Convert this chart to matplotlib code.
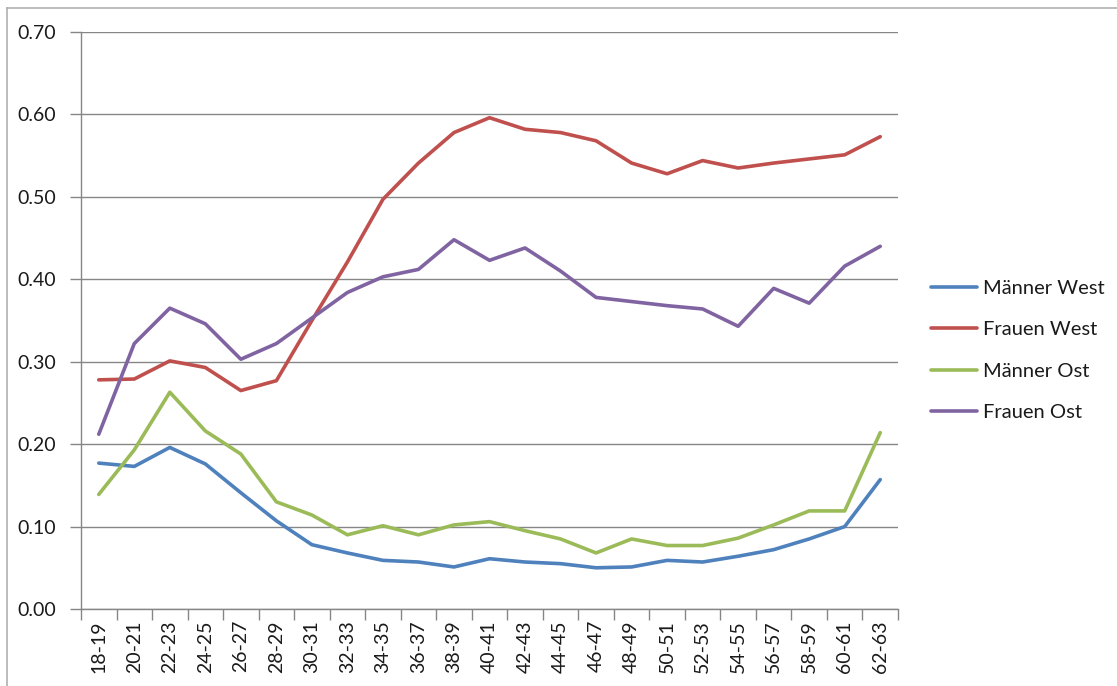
import matplotlib
matplotlib.use("Agg")
import matplotlib.pyplot as plt
import matplotlib.ticker as mticker
import numpy as np

# ── Data ──────────────────────────────────────────────────────────────────────
age_groups = ["18-19", "20-21", "22-23", "24-25", "26-27", "28-29", "30-31",
              "32-33", "34-35", "36-37", "38-39", "40-41", "42-43", "44-45",
              "46-47", "48-49", "50-51", "52-53", "54-55", "56-57", "58-59",
              "60-61", "62-63"]

maenner_west = [0.177, 0.173, 0.196, 0.176, 0.141, 0.107, 0.078, 0.068, 0.059,
                0.057, 0.051, 0.061, 0.057, 0.055, 0.050, 0.051, 0.059, 0.057,
                0.064, 0.072, 0.085, 0.100, 0.157]
frauen_west = [0.278, 0.279, 0.301, 0.293, 0.265, 0.277, 0.350, 0.421, 0.497,
               0.541, 0.578, 0.596, 0.582, 0.578, 0.568, 0.541, 0.528, 0.544,
               0.535, 0.541, 0.546, 0.551, 0.573]
maenner_ost = [0.139, 0.193, 0.263, 0.216, 0.188, 0.130, 0.114, 0.090, 0.101,
               0.090, 0.102, 0.106, 0.095, 0.085, 0.068, 0.085, 0.077, 0.077,
               0.086, 0.102, 0.119, 0.119, 0.214]
frauen_ost = [0.212, 0.322, 0.365, 0.346, 0.303, 0.322, 0.353, 0.384, 0.403,
              0.412, 0.448, 0.423, 0.438, 0.410, 0.378, 0.373, 0.368, 0.364,
              0.343, 0.389, 0.371, 0.416, 0.440]

series = [
    ("Männer West", maenner_west, "#4F81BD"),
    ("Frauen West", frauen_west, "#C0504D"),
    ("Männer Ost", maenner_ost, "#9BBB59"),
    ("Frauen Ost", frauen_ost, "#8064A2"),
]

AXIS_GREY = "#868686"
TEXT_COL = "#1a1a1a"
plt.rcParams["font.family"] = ["Lato", "DejaVu Sans"]

fig = plt.figure(figsize=(11.17, 6.86), dpi=100)
ax = fig.add_axes([81 / 1117, 77 / 686, 817 / 1117, 577 / 686])

x = np.arange(len(age_groups))
for name, vals, col in series:
    ax.plot(x, vals, color=col, lw=2.6, label=name, solid_joinstyle="round",
            solid_capstyle="round")

ax.set_xlim(-0.5, len(age_groups) - 0.5)
ax.set_ylim(0, 0.70)
ax.yaxis.set_major_locator(mticker.MultipleLocator(0.1))
ax.yaxis.set_major_formatter(mticker.FuncFormatter(lambda v, _: f"{v:.2f}"))
ax.grid(axis="y", color=AXIS_GREY, lw=1.0)
ax.set_axisbelow(True)

# category boundaries get the tick marks, centres get the labels
ax.set_xticks(np.arange(-0.5, len(age_groups), 1.0))
ax.set_xticklabels([])
ax.set_xticks(x, minor=True)
ax.set_xticklabels(age_groups, minor=True, rotation=90, fontsize=14)
ax.tick_params(axis="x", which="major", length=8, color=AXIS_GREY, width=1)
ax.tick_params(axis="x", which="minor", length=0, pad=8, labelcolor=TEXT_COL)
ax.tick_params(axis="y", length=8, color=AXIS_GREY, width=1, labelsize=14,
               pad=10, labelcolor=TEXT_COL)

for s in ["top", "right"]:
    ax.spines[s].set_visible(False)
for s in ["left", "bottom"]:
    ax.spines[s].set_color(AXIS_GREY)
    ax.spines[s].set_linewidth(1)

leg = fig.legend(loc="upper left", bbox_to_anchor=(913 / 1117, 1 - 262 / 686),
                 frameon=False, fontsize=14.5, handlelength=2.3,
                 handletextpad=0.3, labelspacing=1.2, labelcolor=TEXT_COL)

# chart-area border (top and left edges visible in the crop)
fig.add_artist(plt.Line2D([7 / 1117, 1], [1 - 8 / 686, 1 - 8 / 686],
                          color="#b0b0b0", lw=1.2))
fig.add_artist(plt.Line2D([7 / 1117, 7 / 1117], [0, 1 - 8 / 686],
                          color="#b0b0b0", lw=1.2))

fig.savefig("out.png", dpi=100)
